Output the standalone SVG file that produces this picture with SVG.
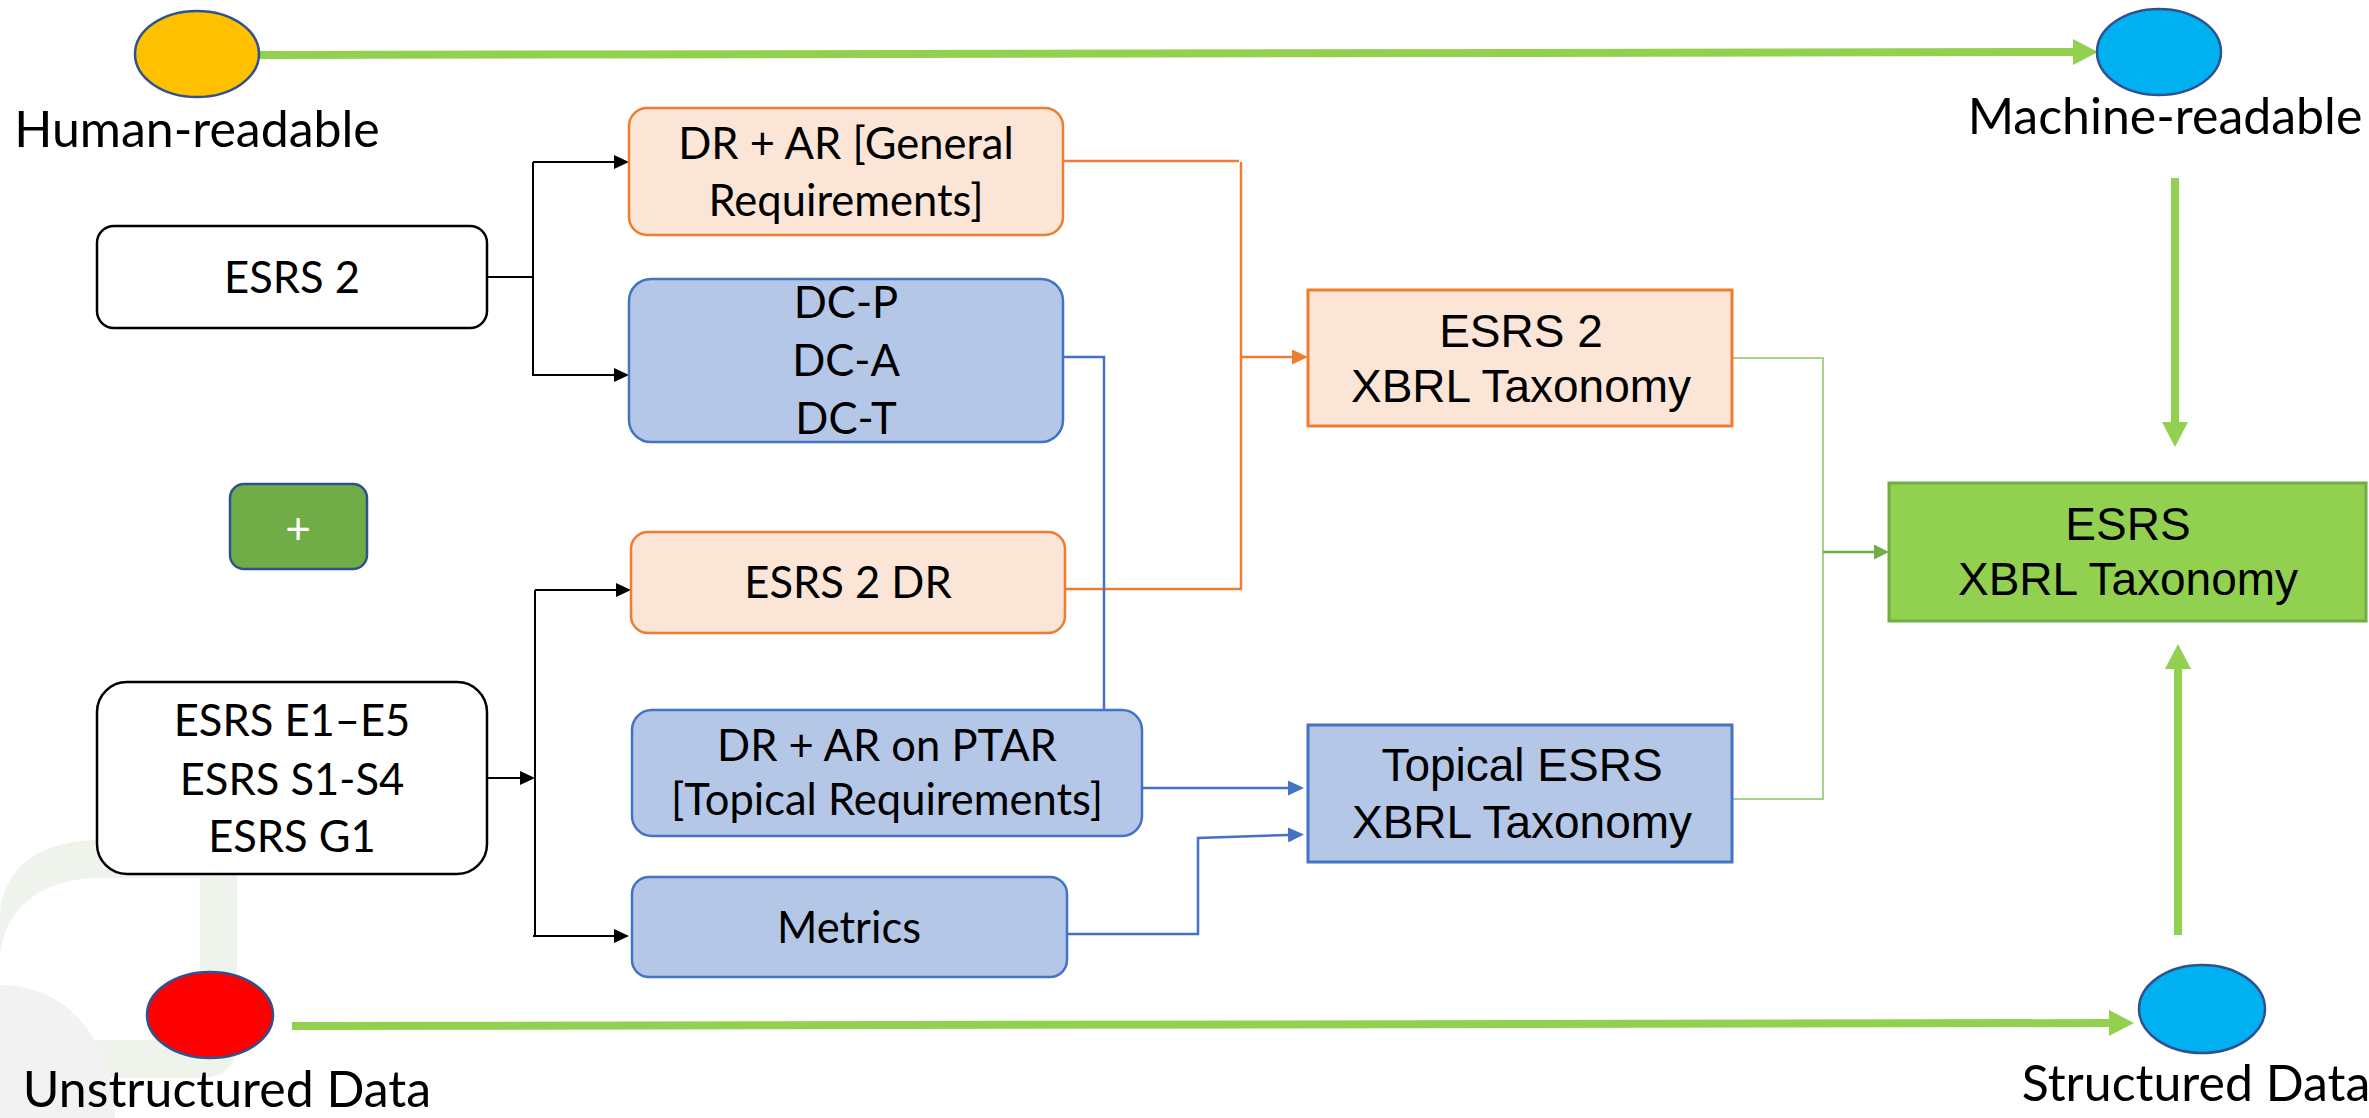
<svg xmlns="http://www.w3.org/2000/svg" width="2369" height="1118" viewBox="0 0 2369 1118">
<style>
.lbl{font-family:Lato,"Liberation Sans",sans-serif;font-size:50px;fill:#000;text-anchor:middle}
.bt{font-family:Lato,"Liberation Sans",sans-serif;font-size:43.5px;fill:#000;text-anchor:middle}
.at{font-family:"Liberation Sans",Arial,sans-serif;font-size:46px;fill:#000;text-anchor:middle}
.wbox{fill:#fff;stroke:#000;stroke-width:2.5}
.obox{fill:#FBE5D6;stroke:#ED7D31;stroke-width:2.5}
.bbox{fill:#B4C7E7;stroke:#4472C4;stroke-width:2.5}
.ell{stroke:#2F528F;stroke-width:2.5}
.big{stroke:#92D050;stroke-width:8;fill:none}
.cb{stroke:#000;stroke-width:2;fill:none}
.co{stroke:#ED7D31;stroke-width:2.5;fill:none}
.cbl{stroke:#4472C4;stroke-width:2.5;fill:none}
.cg{stroke:#A9D18E;stroke-width:2;fill:none}
</style>
<defs>
<marker id="ahK" markerUnits="userSpaceOnUse" markerWidth="16" markerHeight="14" refX="0" refY="7" orient="auto"><path d="M0,0 L15,7 L0,14 z" fill="#000"/></marker>
<marker id="ahO" markerUnits="userSpaceOnUse" markerWidth="17" markerHeight="15" refX="0" refY="7.5" orient="auto"><path d="M0,0 L16,7.5 L0,15 z" fill="#ED7D31"/></marker>
<marker id="ahB" markerUnits="userSpaceOnUse" markerWidth="17" markerHeight="15" refX="0" refY="7.5" orient="auto"><path d="M0,0 L16,7.5 L0,15 z" fill="#4472C4"/></marker>
<marker id="ahG" markerUnits="userSpaceOnUse" markerWidth="16" markerHeight="15" refX="0" refY="7.5" orient="auto"><path d="M0,0 L15,7.5 L0,15 z" fill="#70AD47"/></marker>
<marker id="ahBig" markerUnits="userSpaceOnUse" markerWidth="26" markerHeight="26" refX="0" refY="13" orient="auto"><path d="M0,0 L25,13 L0,26 z" fill="#92D050"/></marker>
</defs>

<g id="watermark">
<path fill="#EEF3EB" fill-rule="evenodd" d="M0,920 C0,868 40,840 100,840 H237 V1040 C237,1065 225,1078 200,1078 H0 Z M0,965 C0,910 40,878 100,878 H200 V1020 C200,1034 192,1040 180,1040 H0 Z"/>
<path fill="#F2F2F2" d="M0,985 C70,985 115,1045 115,1118 H0 Z"/>
</g>

<g id="connectors">
<path class="big" d="M260,55 L2073,52" marker-end="url(#ahBig)"/>
<path class="big" d="M2175,178 V422" marker-end="url(#ahBig)"/>
<path class="big" d="M2178,935 V669" marker-end="url(#ahBig)"/>
<path class="big" d="M292,1026 L2109,1023" marker-end="url(#ahBig)"/>

<path class="cb" stroke-width="1.5" d="M487,277 H533"/>
<path class="cb" d="M533,162 V376"/>
<path class="cb" d="M533,162 H614" marker-end="url(#ahK)"/>
<path class="cb" d="M533,375 H614" marker-end="url(#ahK)"/>

<path class="cb" d="M487,778 H520" marker-end="url(#ahK)"/>
<path class="cb" d="M535,590 V937"/>
<path class="cb" d="M535,590 H616" marker-end="url(#ahK)"/>
<path class="cb" d="M533,936 H614" marker-end="url(#ahK)"/>

<path class="co" d="M1063,161 H1239"/>
<path class="co" d="M1241,162 V590"/>
<path class="co" d="M1065,589 H1241"/>
<path class="co" d="M1241,357 H1292" marker-end="url(#ahO)"/>

<path class="cbl" d="M1063,357 H1104 V710"/>
<path class="cbl" d="M1142,788 H1288" marker-end="url(#ahB)"/>
<path class="cbl" d="M1067,934 H1198 V838 L1288,835" marker-end="url(#ahB)"/>

<path class="cg" d="M1732,358 H1823 V799 H1732"/>
<path stroke="#70AD47" stroke-width="2.5" fill="none" d="M1823,552 H1874" marker-end="url(#ahG)"/>
</g>

<g id="human-readable">
<ellipse class="ell" cx="197" cy="54" rx="62" ry="43" fill="#FFC000"/>
<text class="lbl" x="197" y="147">Human-readable</text>
</g>
<g id="machine-readable">
<ellipse class="ell" cx="2159" cy="52" rx="62" ry="43" fill="#00B0F0"/>
<text class="lbl" x="2165" y="134">Machine-readable</text>
</g>
<g id="unstructured-data">
<ellipse class="ell" cx="210" cy="1015" rx="63" ry="43" fill="#FF0000"/>
<text class="lbl" x="227" y="1107">Unstructured Data</text>
</g>
<g id="structured-data">
<ellipse class="ell" cx="2202" cy="1009" rx="63" ry="44" fill="#00B0F0"/>
<text class="lbl" x="2196" y="1101">Structured Data</text>
</g>

<g id="esrs2">
<rect class="wbox" x="97" y="226" width="390" height="102" rx="17"/>
<text class="bt" x="292" y="293">ESRS 2</text>
</g>
<g id="plus">
<rect x="230" y="484" width="137" height="85" rx="14" fill="#70AD47" stroke="#2F528F" stroke-width="2.5"/>
<text x="298" y="544" font-family="Liberation Sans,Arial,sans-serif" font-size="44" fill="#fff" text-anchor="middle">+</text>
</g>
<g id="esrs-topical">
<rect class="wbox" x="97" y="682" width="390" height="192" rx="30"/>
<text class="bt" x="292" y="736">ESRS E1–E5</text>
<text class="bt" x="292" y="795">ESRS S1-S4</text>
<text class="bt" x="292" y="852">ESRS G1</text>
</g>

<g id="dr-ar-general">
<rect class="obox" x="629" y="108" width="434" height="127" rx="18"/>
<text class="bt" x="846" y="159">DR + AR [General</text>
<text class="bt" x="846" y="216">Requirements]</text>
</g>
<g id="dc">
<rect class="bbox" x="629" y="279" width="434" height="163" rx="22"/>
<text class="bt" x="846" y="318">DC-P</text>
<text class="bt" x="846" y="376">DC-A</text>
<text class="bt" x="846" y="434">DC-T</text>
</g>
<g id="esrs2-dr">
<rect class="obox" x="631" y="532" width="434" height="101" rx="17"/>
<text class="bt" x="848" y="598">ESRS 2 DR</text>
</g>
<g id="dr-ar-ptar">
<rect class="bbox" x="632" y="710" width="510" height="126" rx="20"/>
<text class="bt" x="887" y="761">DR + AR on PTAR</text>
<text class="bt" x="887" y="815">[Topical Requirements]</text>
</g>
<g id="metrics">
<rect class="bbox" x="632" y="877" width="435" height="100" rx="17"/>
<text class="bt" x="849" y="943">Metrics</text>
</g>

<g id="esrs2-xbrl">
<rect x="1308" y="290" width="424" height="136" fill="#FBE5D6" stroke="#ED7D31" stroke-width="3"/>
<text class="at" x="1521" y="347">ESRS 2</text>
<text class="at" x="1521" y="402">XBRL Taxonomy</text>
</g>
<g id="topical-xbrl">
<rect x="1308" y="725" width="424" height="137" fill="#B4C7E7" stroke="#4472C4" stroke-width="3"/>
<text class="at" x="1522" y="781">Topical ESRS</text>
<text class="at" x="1522" y="838">XBRL Taxonomy</text>
</g>
<g id="esrs-xbrl">
<rect x="1889" y="483" width="477" height="138" fill="#92D050" stroke="#70AD47" stroke-width="3"/>
<text class="at" x="2128" y="540">ESRS</text>
<text class="at" x="2128" y="595">XBRL Taxonomy</text>
</g>
</svg>
